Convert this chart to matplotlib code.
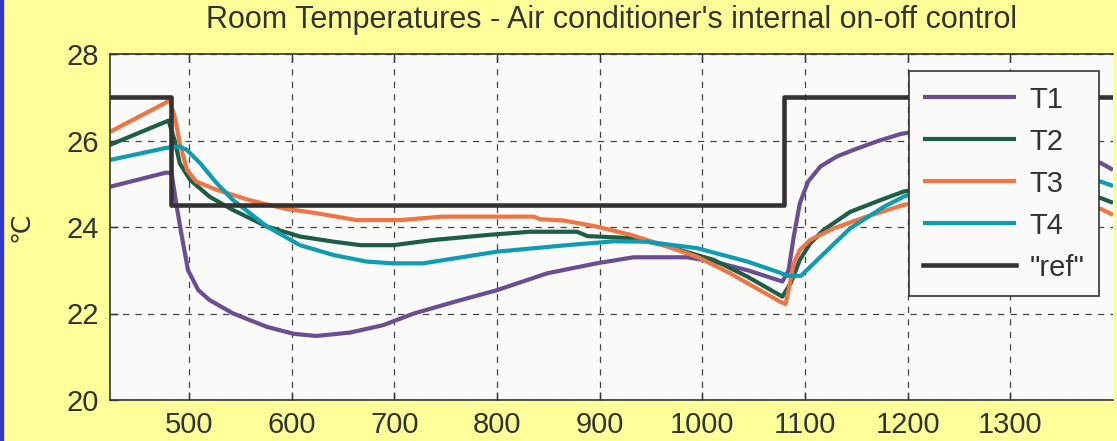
import matplotlib
matplotlib.use("Agg")
import matplotlib.pyplot as plt
from matplotlib.patches import Rectangle

plt.rcParams['font.family'] = ['Liberation Sans', 'DejaVu Sans']

# time axis samples and temperatures
t1_x = [423, 478, 483, 488, 493, 499, 509, 520, 543, 576, 602, 624, 657, 689, 719, 760, 800, 849,
        897, 933, 985, 1011, 1044, 1078, 1084, 1089, 1095, 1103, 1115, 1131, 1147, 1170, 1193, 1230,
        1280, 1330, 1388, 1400]
t1_y = [24.93, 25.26, 25.24, 24.47, 23.78, 23.0, 22.54, 22.31, 22.0, 21.69, 21.53, 21.48, 21.56, 21.73,
        22.0, 22.28, 22.54, 22.93, 23.16, 23.30, 23.30, 23.2, 23.0, 22.74, 23.0, 23.78, 24.55, 25.05,
        25.4, 25.63, 25.78, 25.98, 26.15, 26.3, 26.2, 25.9, 25.48, 25.32]

t2_x = [423, 480, 486, 491, 501, 520, 543, 576, 608, 641, 667, 699, 738, 793, 832, 878, 888, 933, 962,
        1011, 1044, 1078, 1086, 1095, 1105, 1118, 1144, 1170, 1196, 1240, 1300, 1350, 1388, 1400]
t2_y = [25.9, 26.46, 26.0, 25.47, 25.09, 24.7, 24.39, 24.01, 23.78, 23.66, 23.58, 23.58, 23.7, 23.82,
        23.89, 23.89, 23.79, 23.74, 23.58, 23.24, 22.85, 22.39, 22.70, 23.24, 23.62, 23.93, 24.35, 24.59,
        24.82, 25.0, 24.95, 24.8, 24.67, 24.56]

t3_x = [423, 477, 481, 486, 491, 498, 507, 527, 559, 592, 624, 663, 706, 746, 836, 842, 865, 897, 930,
        962, 995, 1027, 1076, 1081, 1084, 1089, 1095, 1105, 1128, 1160, 1196, 1240, 1300, 1350, 1388, 1400]
t3_y = [26.2, 26.87, 26.94, 26.55, 25.93, 25.32, 25.05, 24.86, 24.62, 24.43, 24.32, 24.16, 24.16, 24.24,
        24.24, 24.18, 24.15, 24.01, 23.82, 23.58, 23.31, 22.93, 22.27, 22.22, 22.54, 23.16, 23.47, 23.70,
        23.97, 24.24, 24.51, 24.75, 24.75, 24.6, 24.42, 24.28]

t4_x = [423, 478, 491, 498, 511, 527, 543, 576, 608, 641, 673, 699, 728, 800, 868, 914, 946, 995, 1044,
        1076, 1083, 1096, 1112, 1144, 1177, 1196, 1240, 1300, 1350, 1388, 1400]
t4_y = [25.55, 25.83, 25.86, 25.78, 25.47, 25.01, 24.62, 24.01, 23.58, 23.35, 23.2, 23.16, 23.16, 23.43,
        23.58, 23.67, 23.66, 23.51, 23.2, 22.94, 22.87, 22.87, 23.24, 23.97, 24.47, 24.7, 25.1, 25.3,
        25.2, 25.05, 24.95]

ref_x = [423, 482, 1080, 1400]
ref_y = [27, 24.5, 27, 27]

labels = ['T1', 'T2', 'T3', 'T4', '"ref"']
colors = ['#6B4D94', '#1C5E46', '#F07545', '#0E9CB4', '#333333']

W, H = 1117, 441
fig = plt.figure(figsize=(W / 100, H / 100), dpi=100, facecolor='#FFFF99')
fig.patches.append(Rectangle((0, 0), 3 / W, 1, transform=fig.transFigure, color='#3535D0', zorder=0))

ax = fig.add_axes([110 / W, 1 - 400 / H, (1113 - 110) / W, (400 - 54) / H])
ax.set_facecolor('#FAFAF8')

series = [(t1_x, t1_y), (t2_x, t2_y), (t3_x, t3_y), (t4_x, t4_y)]
for (xs, ys), c, lab in zip(series, colors[:4], labels[:4]):
    ax.plot(xs, ys, color=c, lw=3, label=lab, solid_capstyle='butt')
ax.plot(ref_x, ref_y, color=colors[4], lw=3.3, drawstyle='steps-post', label=labels[4])

ax.set_xlim(423, 1400)
ax.set_ylim(20, 28)
ax.set_xticks(range(500, 1301, 100))
ax.set_yticks([20, 22, 24, 26, 28])
ax.grid(True, color='#444444', lw=0.9, linestyle=(0, (5, 5)))
ax.tick_params(direction='in', length=6, width=1, colors='#333333', labelsize=21,
               top=True, right=False, pad=8)
for s in ['left', 'bottom', 'top']:
    ax.spines[s].set_color('#333333')
    ax.spines[s].set_linewidth(1.2)
ax.spines['right'].set_visible(False)

ax.set_ylabel('℃', fontsize=19, color='#333333', labelpad=24)

fig.text((110 + 1113) / 2 / W, 1 - 20 / H, "Room Temperatures - Air conditioner's internal on-off control",
         ha='center', va='center', fontsize=22, color='#333333')

leg = ax.legend(loc='upper right', bbox_to_anchor=(1099 / W, 1 - 71 / H), bbox_transform=fig.transFigure,
                borderaxespad=0, fontsize=21, handlelength=3.2, handletextpad=0.45, labelspacing=0.48,
                fancybox=False, framealpha=1, facecolor='#FAFAF8', edgecolor='#333333', borderpad=0.5)
leg.get_frame().set_linewidth(1.2)
for t in leg.get_texts():
    t.set_color('#333333')

fig.savefig('out.png', dpi=100, facecolor=fig.get_facecolor())
